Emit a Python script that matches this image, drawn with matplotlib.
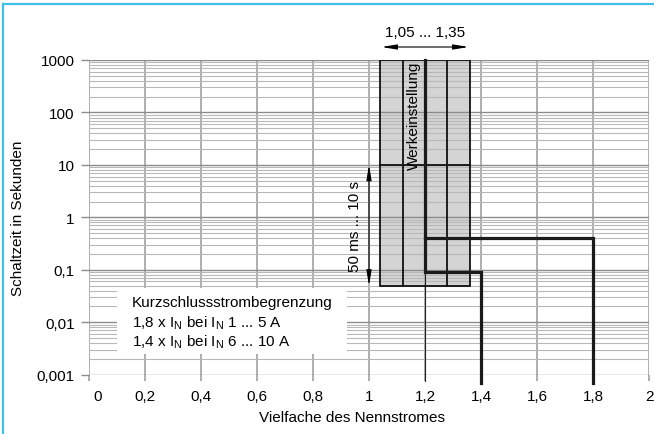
import matplotlib.pyplot as plt
import matplotlib.ticker as mticker
from matplotlib.patches import Rectangle
from matplotlib.lines import Line2D
from matplotlib.transforms import ScaledTranslation

plt.rcParams['font.family'] = ['Liberation Sans', 'DejaVu Sans']
plt.rcParams['mathtext.fontset'] = 'custom'
plt.rcParams['mathtext.rm'] = 'Liberation Sans'

# data
x_ticks = [0, 0.2, 0.4, 0.6, 0.8, 1.0, 1.2, 1.4, 1.6, 1.8, 2.0]
y_ticks = [0.001, 0.01, 0.1, 1, 10, 100, 1000]
y_labels = ['0,001', '0,01', '0,1', '1', '10', '100', '1000']

# tolerance band 1,05 ... 1,35 (time range 50 ms ... 10 s / up to 1000 s)
band_x = [1.04, 1.36]
band_y = [0.05, 1000]
band_dividers = [1.12, 1.28]
band_split_y = 10

# tripping curves
curve_14_x = [1.2, 1.2, 1.4, 1.4]
curve_14_y = [1000, 0.09, 0.09, 0.0007]
curve_18_x = [1.2, 1.8, 1.8]
curve_18_y = [0.4, 0.4, 0.0007]

fig = plt.figure(figsize=(6.54, 4.35), dpi=100)
ax = fig.add_axes([88.7 / 654, 1 - 375.7 / 435, 560.6 / 654, 314.7 / 435])
ax.set_yscale('log')
ax.set_xlim(0, 2)
ax.set_ylim(0.001, 1000)
for s in ax.spines.values():
    s.set_visible(False)

ax.xaxis.set_major_locator(mticker.FixedLocator(x_ticks))
ax.xaxis.set_major_formatter(mticker.FuncFormatter(lambda v, p: f'{v:g}'.replace('.', ',')))
ax.yaxis.set_major_locator(mticker.FixedLocator(y_ticks))
ax.yaxis.set_major_formatter(mticker.FixedFormatter(y_labels))
ax.yaxis.set_minor_locator(mticker.LogLocator(base=10, subs=range(2, 10), numticks=20))
ax.yaxis.set_minor_formatter(mticker.NullFormatter())

ax.set_axisbelow(True)
ax.grid(True, which='major', axis='x', color='#a8a8a8', lw=1.3)
ax.grid(True, which='major', axis='y', color='#8c8c8c', lw=1.0)
ax.grid(True, which='minor', axis='y', color='#b8b8b8', lw=0.8)
ax.tick_params(axis='x', which='major', length=4.5, width=1.3, color='#a8a8a8', pad=6, labelsize=11)
ax.tick_params(axis='y', which='major', length=6, width=1.0, color='#8c8c8c', pad=4, labelsize=11)
ax.tick_params(axis='y', which='minor', length=0)

# shift the "0" label away from "0,001"
lbl0 = ax.xaxis.get_major_ticks()[0].label1
lbl0.set_transform(lbl0.get_transform() + ScaledTranslation(9 / 100, 0, fig.dpi_scale_trans))

# white box behind the note
ax.add_patch(Rectangle((0.1, 0.0025), 0.82, 0.045 - 0.0025, facecolor='white',
                       edgecolor='none', zorder=1))

# tolerance band
ax.add_patch(Rectangle((band_x[0], band_y[0]), band_x[1] - band_x[0], band_y[1] - band_y[0],
                       facecolor='#d4d4d4', edgecolor='none', zorder=0.2))
ax.add_patch(Rectangle((band_x[0], band_y[0]), band_x[1] - band_x[0], band_y[1] - band_y[0],
                       facecolor='none', edgecolor='#111111', lw=1.3, zorder=3))
for xd in band_dividers:
    ax.plot([xd, xd], band_y, color='#111111', lw=1.3, zorder=3)
ax.plot(band_x, [band_split_y, band_split_y], color='#111111', lw=1.3, zorder=3)

# thin dark line at 1,2
ax.plot([1.2, 1.2], [0.00077, 1000], color='#222222', lw=0.8, zorder=2, clip_on=False)

ax.plot(curve_14_x, curve_14_y, color='#1a1a1a', lw=2.3, zorder=4, clip_on=False,
        solid_joinstyle='miter')
ax.plot(curve_18_x, curve_18_y, color='#1a1a1a', lw=2.3, zorder=4, clip_on=False,
        solid_joinstyle='miter')

ax.text(1.16, 90, 'Werkeinstellung', rotation=90, ha='center', va='center', fontsize=11, zorder=5)

arrow_style = '<|-|>,head_length=0.9,head_width=0.15'
ax.annotate('', xy=(1.0, 0.05), xytext=(1.0, 10), annotation_clip=False,
            arrowprops=dict(arrowstyle=arrow_style, color='black', lw=0.8,
                            mutation_scale=10, shrinkA=0, shrinkB=0), zorder=5)
ax.text(0.95, 0.707, '50 ms ... 10 s', rotation=90, ha='center', va='center', fontsize=11)

ax.annotate('', xy=(1.045, 1770), xytext=(1.355, 1770), annotation_clip=False,
            arrowprops=dict(arrowstyle=arrow_style, color='black', lw=0.8,
                            mutation_scale=10, shrinkA=0, shrinkB=0))
ax.text(1.2, 3420, '1,05 ... 1,35', ha='center', va='center', fontsize=11, clip_on=False)

ax.text(0.155, 0.0245, 'Kurzschlussstrombegrenzung', ha='left', va='center', fontsize=11, zorder=5)
ax.text(0.155, 0.0100, r'1,8 x I$_\mathrm{N}$ bei I$_\mathrm{N}$ 1 ... 5 A', ha='left',
        va='center', fontsize=11, zorder=5)
ax.text(0.155, 0.00434, r'1,4 x I$_\mathrm{N}$ bei I$_\mathrm{N}$ 6 ... 10 A', ha='left',
        va='center', fontsize=11, zorder=5)

fig.text(18 / 654, 1 - 218 / 435, 'Schaltzeit in Sekunden', rotation=90, ha='center',
         va='center', fontsize=11)
fig.text(352 / 654, 1 - 418 / 435, 'Vielfache des Nennstromes', ha='center', va='center',
         fontsize=11)

# blue frame lines (top and left)
fig.add_artist(Line2D([2.5 / 654, 1], [1 - 4.5 / 435, 1 - 4.5 / 435], color='#3fc1ea', lw=1.6))
fig.add_artist(Line2D([2.5 / 654, 2.5 / 654], [0, 1 - 4.5 / 435], color='#3fc1ea', lw=1.6))

fig.savefig('out.png', dpi=100)
